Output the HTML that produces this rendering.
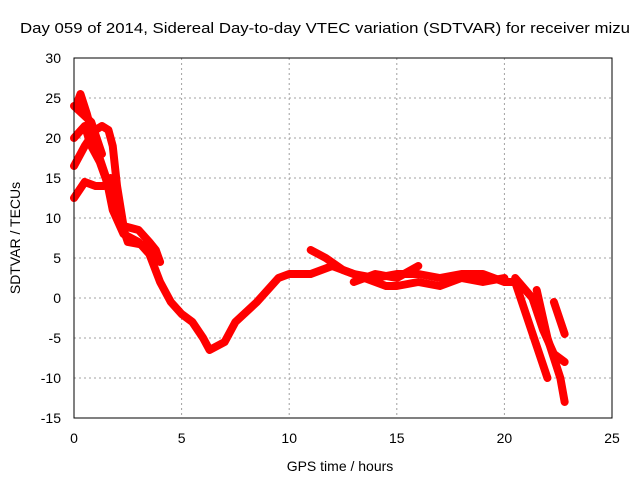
<!DOCTYPE html>
<html><head><meta charset="utf-8"><style>
body{margin:0;background:#fff}
svg{display:block;font-family:"Liberation Sans",sans-serif}
</style></head><body>
<svg id="chart" width="640" height="480">
<rect width="640" height="480" fill="#fff"/>
<text x="20" y="33" font-size="15" textLength="610" lengthAdjust="spacingAndGlyphs">Day 059 of 2014, Sidereal Day-to-day VTEC variation (SDTVAR) for receiver mizu</text>
<g id="grid"></g><g id="series"></g><g id="axes"></g>
<text x="340" y="471" font-size="14" text-anchor="middle">GPS time / hours</text>
<text transform="translate(20,238) rotate(-90)" font-size="14" text-anchor="middle">SDTVAR / TECUs</text>
</svg>
<script>
const xTicks=[0,5,10,15,20,25];
const yTicks=[-15,-10,-5,0,5,10,15,20,25,30];
const trackMain=[[0.1,24],[0.3,25.5],[0.6,23],[1.0,19],[1.5,15],[1.8,11],[2.3,8],[3,7],[3.5,5.5],[4,2],[4.5,-0.5],[5,-2],[5.5,-3],[6,-5],[6.3,-6.5],[7,-5.5],[7.5,-3],[8.5,-0.5],[9.5,2.5],[10,3],[11,3],[12,4],[13,3],[14,2.5],[15,3],[16,3],[17,2.5],[18,3],[19,3],[20,2],[20.5,2],[21,-2],[21.5,-6],[22,-10]];
const trackB=[[0,16.5],[0.5,19],[1,21],[1.3,21.5],[1.6,21],[1.8,19],[2,14],[2.3,9],[3,8.5],[3.5,7],[3.8,6],[4,4.5]];
const trackC=[[0,20],[0.5,21.5],[0.8,19],[1.2,17],[1.6,14]];
const trackD=[[0,12.5],[0.5,14.5],[1,14],[1.4,14],[1.7,15],[2,11],[2.5,7],[3.5,6.5]];
const trackE=[[0,24],[0.8,22],[1.3,18]];
const trackF=[[11,6],[11.7,5],[12.5,3.5],[13.5,2.5],[14.5,1.5],[15,1.5],[16,2],[17,1.5],[18,2.5],[19,2],[20,2.5]];
const trackG=[[13,2],[14,3],[15,2.5],[16,4]];
const trackH=[[20.5,2.5],[21.3,0],[21.8,-4],[22.3,-7],[22.8,-8]];
const trackI=[[21.5,1],[22,-5],[22.6,-10],[22.8,-13]];
const trackJ=[[22.3,-0.5],[22.8,-4.5]];
const tracks=[trackMain,trackB,trackC,trackD,trackE,trackF,trackG,trackH,trackI,trackJ];
const X=h=>74+h*21.52, Y=v=>298-v*8;
const NS='http://www.w3.org/2000/svg';
const grid=document.getElementById('grid'),axes=document.getElementById('axes'),ser=document.getElementById('series');
function mk(tag,a,p){const e=document.createElementNS(NS,tag);for(const k in a)e.setAttribute(k,a[k]);p.appendChild(e);return e;}
xTicks.forEach(t=>{
 if(t>0&&t<25){const g=mk('line',{x1:X(t),x2:X(t),y1:58,y2:418,stroke:'#a0a0a0','stroke-dasharray':'2,3'},grid);
 
 }
 const l=mk('text',{x:X(t),y:443,'font-size':14,'text-anchor':'middle'},axes);l.textContent=t;
 
 
});
yTicks.forEach(t=>{
 if(t>-15&&t<30){const g=mk('line',{x1:74,x2:612,y1:Y(t),y2:Y(t),stroke:'#a0a0a0','stroke-dasharray':'2,3'},grid);
 
 }
 const l=mk('text',{x:61,y:Y(t)+5,'font-size':14,'text-anchor':'end'},axes);l.textContent=t;
 
 
});
const fr=mk('rect',{x:74,y:58,width:538,height:360,fill:'none',stroke:'#000'},axes);


tracks.forEach(tr=>{
 const p=mk('polyline',{points:tr.map(d=>X(d[0])+','+Y(d[1])).join(' '),fill:'none',stroke:'#f00','stroke-width':8,'stroke-linejoin':'round','stroke-linecap':'round'},ser);
 
 
});
</script>
</body></html>
